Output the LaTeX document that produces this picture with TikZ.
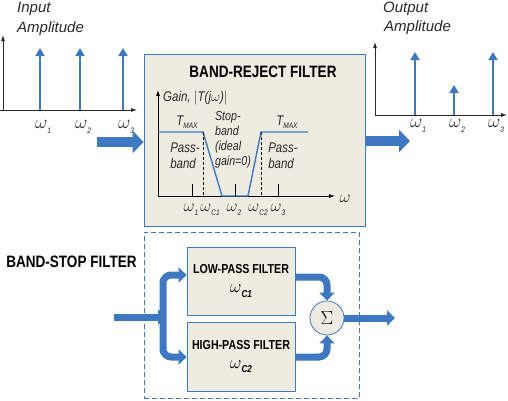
\RequirePackage{fix-cm}
\documentclass[tikz,border=0pt]{standalone}
\usepackage{fontspec}
\setmainfont{Liberation Sans}
\newfontfamily\condfont[FakeStretch=0.82]{Liberation Sans}
\usetikzlibrary{arrows.meta}
\definecolor{filtblue}{RGB}{62,120,192}
\definecolor{boxfill}{RGB}{238,235,225}
\definecolor{txtgray}{RGB}{40,40,40}
\newcommand\wsub[1]{$\omega$\raisebox{-0.45ex}{\condfont\itshape\footnotesize #1}}
\newcommand\wbig[1]{$\omega$\raisebox{-0.45ex}{\condfont\bfseries\itshape\normalsize #1}}
\newcommand\tmax{\textit{T}\raisebox{-0.45ex}{\condfont\itshape\footnotesize MAX}}
\begin{document}
\begin{tikzpicture}[x=1pt,y=-1pt,line join=round,>=latex,
  blockbox/.style={draw=filtblue,fill=boxfill,line width=0.8pt,inner sep=0pt},
  bigarrow/.style={filtblue,line width=10pt,-{Triangle[length=11pt,width=22pt]}},
  flowarrow/.style={filtblue,line width=7pt,rounded corners=8pt,-{Triangle[length=8pt,width=15pt]}},
  axisline/.style={txtgray,line width=0.8pt,-{Latex[length=6pt,width=4pt]}},
  spike/.style={filtblue,line width=2.4pt,-{Triangle[length=8pt,width=9pt]}},
  lbl/.style={txtgray,font=\fontsize{15}{18}\selectfont\itshape,inner sep=0pt},
  wlbl/.style={txtgray,font=\fontsize{19}{20}\selectfont,inner sep=0pt},
  inlbl/.style={txtgray,font=\condfont\fontsize{14}{16}\selectfont\itshape,inner sep=0pt,align=left},
  iwlbl/.style={txtgray,font=\fontsize{17}{18}\selectfont,inner sep=0pt},
  heading/.style={black,font=\condfont\bfseries\fontsize{16.5}{18}\selectfont,inner sep=0pt}]
\useasboundingbox (0,0) rectangle (508,400);

% input spectrum
\coordinate (inO) at (3,110);
\draw[axisline] (0,110)--(137,110);
\draw[axisline] (inO)--(3,35);
\foreach \xx/\nm in {40/1,80/2,123/3}{
  \draw[spike] (\xx,110)--(\xx,48);
  \node[wlbl] (inw\nm) at (\xx+3,127) {\wsub{\nm}};
}
\node[lbl,anchor=west] (inT1) at (17,9) {Input};
\node[lbl,anchor=west] (inT2) at (17,29) {Amplitude};

% output spectrum
\coordinate (outO) at (375,115);
\draw[axisline] (outO)--(507,115);
\draw[axisline] (outO)--(375,42);
\foreach \xx/\yy/\nm in {415/52/1,454/85/2,493/52/3}{
  \draw[spike] (\xx,115)--(\xx,\yy);
  \node[wlbl] (outw\nm) at (\xx+3,126) {\wsub{\nm}};
}
\node[lbl,anchor=west] (outT1) at (383,9) {Output};
\node[lbl,anchor=west] (outT2) at (384,28) {Amplitude};

% band-reject filter box
\node[blockbox,minimum width=221pt,minimum height=172pt] (brf) at (254.5,140) {};
\node[heading] (brfT) at (263,72) {BAND-REJECT FILTER};
\coordinate (inA) at (97,142);
\draw[bigarrow] (inA)--(inA -| brf.west);
\coordinate (outA) at (410,141);
\draw[bigarrow] (outA -| brf.east)--(outA);

% response
\coordinate (gO) at (158,196);
\draw[axisline,black] (gO)--(335,196);
\draw[axisline,black] (gO)--(158,90);
\draw[filtblue,line width=1.4pt] (158,132)--(203,132)--(222,196)--(248,196)--(261,132)--(308,132);
\draw[black,dash pattern=on 3pt off 2pt,line width=0.8pt] (203,132)--(203,196) (261,132)--(261,196);
\foreach \xx in {192,235,278}
  \draw[black,line width=0.8pt] (\xx,196)--(\xx,184);
\node[inlbl,anchor=west] (gain) at (163,98) {Gain, $|$T(j$\omega$)$|$};
\node[inlbl] (tmL) at (187,122) {\tmax};
\node[inlbl] (tmR) at (287,122) {\tmax};
\node[inlbl] (pbL) at (185,156) {Pass-\\band};
\node[inlbl] (pbR) at (283,156) {Pass-\\band};
\node[inlbl,font=\condfont\fontsize{13}{15}\selectfont\itshape] (sb) at (233,140) {Stop-\\band\\(ideal\\gain=0)};
\node[iwlbl] (wax) at (345,199) {$\omega$};
\node[iwlbl] (w1) at (191,210) {\wsub{1}};
\node[iwlbl] (wc1) at (210,210) {\wsub{C1}};
\node[iwlbl] (w2) at (234,210) {\wsub{2}};
\node[iwlbl] (wc2) at (258,210) {\wsub{C2}};
\node[iwlbl] (w3) at (278,210) {\wsub{3}};

% band-stop filter
\node[draw=filtblue,dash pattern=on 5pt off 3pt,line width=0.8pt,minimum width=215pt,minimum height=166pt] (bsf) at (251.5,315) {};
\node[heading] (bsfT) at (71.5,262) {BAND-STOP FILTER};
\node[blockbox,minimum width=108pt,minimum height=68pt,align=center] (lpf) at (241,281)
  {{\condfont\bfseries\fontsize{13}{14}\selectfont LOW-PASS FILTER}\\[7pt]{\fontsize{18}{18}\selectfont\wbig{C1}}};
\node[blockbox,minimum width=108pt,minimum height=69pt,align=center] (hpf) at (241,356.5)
  {{\condfont\bfseries\fontsize{13}{14}\selectfont HIGH-PASS FILTER}\\[7pt]{\fontsize{18}{18}\selectfont\wbig{C2}}};
\node[blockbox,circle,minimum size=34pt,font=\fontsize{19}{19}\selectfont] (sig) at (327,318) {$\Sigma$};
\coordinate (bIn) at (114,317);
\coordinate (split) at (166,317);
\draw[flowarrow] (bIn)--(split);
\draw[flowarrow] (163,317)--(163,275)--([yshift=6pt]lpf.west);
\draw[flowarrow] (163,317)--(163,357)--([yshift=-0.5pt]hpf.west);
\draw[flowarrow] ([yshift=4pt]lpf.east)--([yshift=4pt]lpf.east -| sig.north)--(sig.north);
\draw[flowarrow] ([yshift=-0.5pt]hpf.east)--([yshift=-0.5pt]hpf.east -| sig.south)--(sig.south);
\coordinate (bOut) at (395,318);
\draw[flowarrow] (sig.east)--(bOut);
\end{tikzpicture}
\end{document}
